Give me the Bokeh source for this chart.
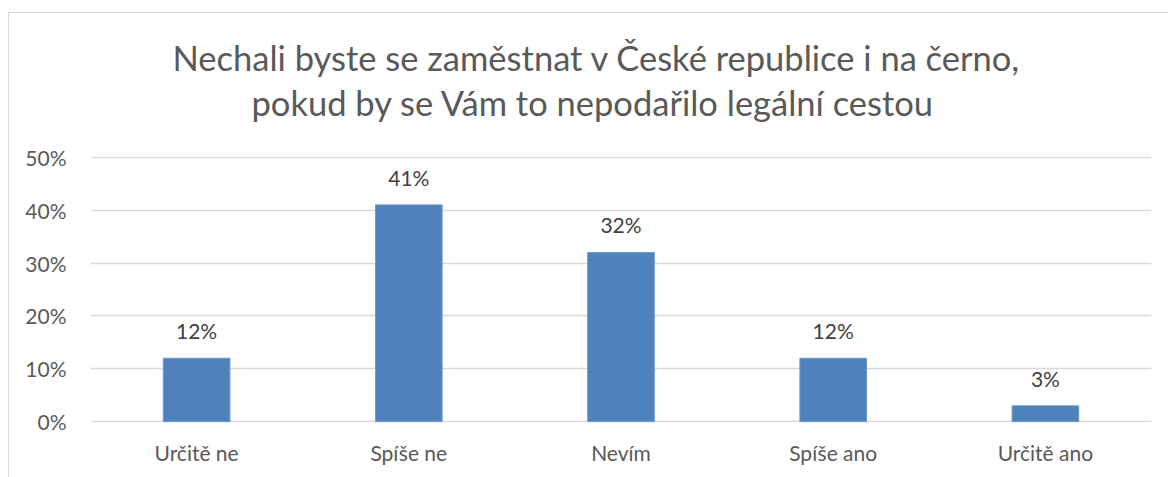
from bokeh.plotting import figure
from bokeh.models import (ColumnDataSource, FactorRange, NumeralTickFormatter,
                          FixedTicker, Spacer, LabelSet, Range1d)
from bokeh.layouts import column, row
from bokeh.embed import file_html
from bokeh.resources import INLINE
from bokeh.core.properties import value

categories = ["Určitě ne", "Spíše ne", "Nevím", "Spíše ano", "Určitě ano"]
shares = [0.12, 0.41, 0.32, 0.12, 0.03]
share_labels = ["12%", "41%", "32%", "12%", "3%"]
y_ticks = [0, 0.1, 0.2, 0.3, 0.4, 0.5]
title_lines = ["Nechali byste se zaměstnat v České republice i na černo,",
               "pokud by se Vám to nepodařilo legální cestou"]

FONT = "Lato"
GRID = "#d9d9d9"
BORDER = "1px solid #d9d9d9"

# --- title strip; its frame is aligned with the chart frame below, so the
# x range is given in canvas pixels of that frame (81..1142) ---
t = figure(width=1160, height=130, x_range=Range1d(81, 1142), y_range=Range1d(130, 0),
           x_axis_type=None, y_axis_type=None,
           output_backend="svg", toolbar_location=None,
           min_border=0, min_border_left=81, min_border_right=18,
           min_border_top=0, min_border_bottom=0)
t.grid.visible = False
t.outline_line_color = None
t.styles = {"border-left": BORDER, "border-top": BORDER}
tsrc = ColumnDataSource(dict(txt=title_lines, x=[163, 242], y=[44, 89]))
t.text(x="x", y="y", text="txt", source=tsrc, text_align="left",
       text_baseline="alphabetic", text_font=value(FONT), text_font_size="34.5px",
       text_color="#595959")

# --- chart ---
src = ColumnDataSource(dict(cat=categories, val=shares, lab=share_labels))
p = figure(x_range=FactorRange(*categories, range_padding=0),
           y_range=Range1d(-0.0015, 0.5015),
           width=1160, height=335, output_backend="svg", toolbar_location=None,
           min_border_left=81, min_border_right=18, min_border_top=14,
           min_border_bottom=55)
p.styles = {"border-left": BORDER}
p.outline_line_color = None

p.vbar(x="cat", top="val", width=0.314, source=src, fill_color="#4f81bd",
       line_color="#6f98cc", line_width=1)

p.add_layout(LabelSet(x="cat", y="val", text="lab", source=src, y_offset=19,
                      text_align="center", text_baseline="alphabetic",
                      text_font=value(FONT), text_font_size="21px",
                      text_color="#404040"))

p.yaxis.ticker = FixedTicker(ticks=y_ticks)
p.yaxis.formatter = NumeralTickFormatter(format="0%")
p.yaxis.axis_line_color = None
p.yaxis.major_tick_line_color = None
p.yaxis.minor_tick_line_color = None
p.yaxis.major_label_text_font = FONT
p.yaxis.major_label_text_font_size = "21px"
p.yaxis.major_label_text_color = "#595959"
p.yaxis.major_label_standoff = 18

p.xaxis.axis_line_color = None
p.xaxis.major_tick_line_color = None
p.xaxis.major_label_text_font = FONT
p.xaxis.major_label_text_font_size = "21px"
p.xaxis.major_label_text_color = "#595959"
p.xaxis.major_label_standoff = 11

p.xgrid.grid_line_color = None
p.ygrid.grid_line_color = GRID
p.ygrid.grid_line_width = 1.5

layout = row(Spacer(width=8, height=477), column(Spacer(height=12, width=1160), t, p))
open("out.html", "w").write(file_html(layout, INLINE))
